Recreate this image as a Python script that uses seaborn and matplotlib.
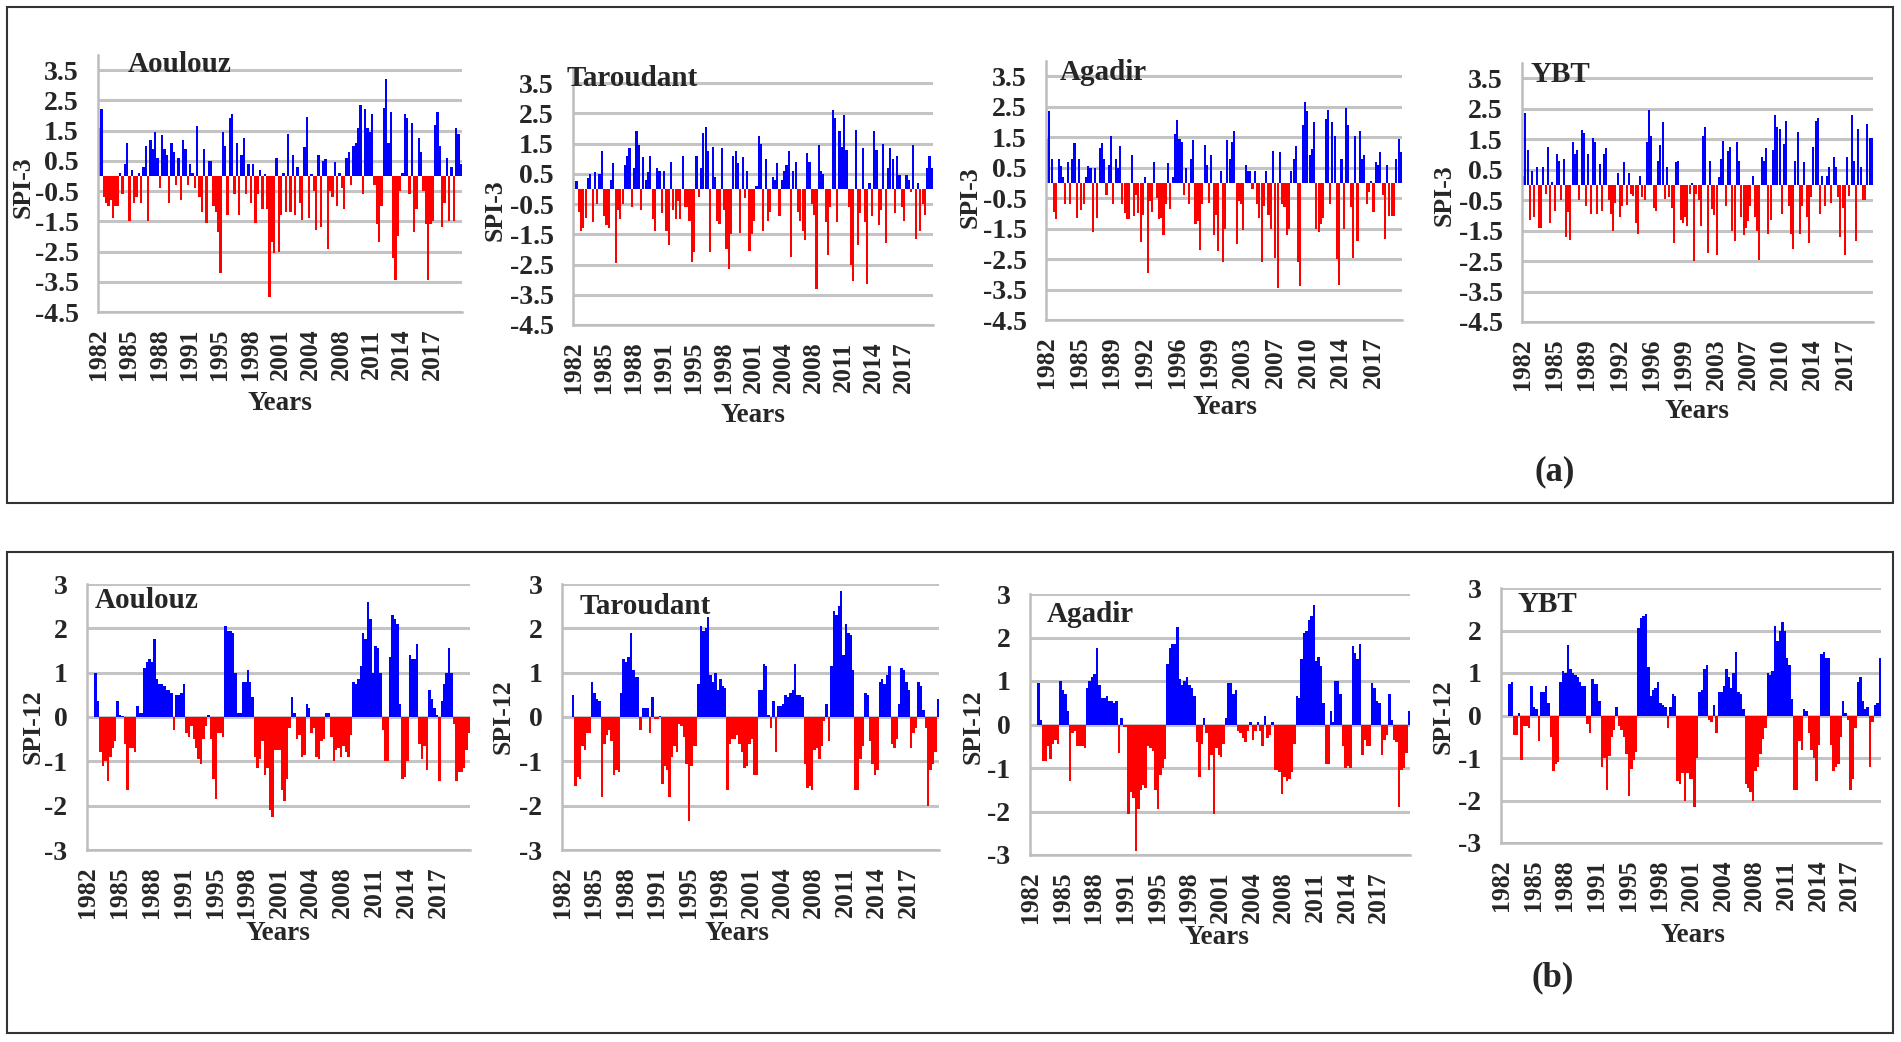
import matplotlib
matplotlib.use("Agg")
import matplotlib.pyplot as plt
from matplotlib.patches import Rectangle
import numpy as np
import pandas as pd
import seaborn as sns

# SPI values, one value per quarter, Jan 1982 - Dec 2020 (4 per year)
aoulouz_spi3 = [
    1.6, 2.2, -0.7, -0.9, -1.0, -0.8, -1.4, -1.0, -1.0, 0.1, -0.6, 0.4,
    1.1, -1.5, 0.2, -0.9, -0.7, 0.1, -0.9, 0.3, 1.0, -1.5, 1.2, 0.9,
    1.45, 0.6, -0.4, 1.35, 0.9, 0.7, -0.9, 1.1, 0.8, -0.3, 0.6, -0.8,
    1.2, 0.9, -0.3, 0.4, 0.1, -0.4, 1.65, -0.7, -1.2, 0.9, -1.55, 0.5,
    0.5, -1.0, -1.2, -1.85, -3.2, 1.45, 1.0, -1.3, 1.9, 2.05, -0.6, 1.1,
    -1.3, 0.7, 1.25, -0.6, 0.4, -0.9, 0.4, -1.55, -0.6, 0.2, -1.1, 0.05,
    -1.1, -4.0, -2.2, -2.55, 0.6, -2.5, -1.3, 0.1, -1.2, 1.4, -1.2, 0.7,
    -1.3, 0.3, -0.9, -1.45, 0.97, 1.95, -1.4, 0.05, -0.5, -1.8, 0.7, -1.7,
    0.5, 0.55, -2.4, -0.5, -0.7, 0.45, -1.0, 0.1, -0.4, -1.1, 0.6, 0.8,
    -0.3, 1.0, 1.1, 1.6, 2.35, -0.6, 2.2, 1.6, 1.45, 2.05, -0.3, -1.6,
    -2.2, -1.0, 2.25, 3.2, 1.1, 2.1, -2.7, -3.45, -2.0, -0.5, 0.1, 2.05,
    1.9, -0.6, 1.75, -1.85, -1.1, 1.25, 0.8, -0.5, -1.6, -3.45, -1.6, -1.5,
    1.7, 2.1, 1.0, -1.7, -0.9, 0.6, -1.5, 0.3, -1.5, 1.6, 1.4, 0.4,
]
taroudant_spi3 = [
    0.0, 0.25, -0.75, -1.4, -1.3, -0.95, 0.35, 0.5, -1.1, 0.55, -0.5, 0.5,
    1.25, -0.9, -1.2, -1.3, 0.3, 0.85, -2.45, -0.7, -1.0, -0.5, 0.8, 1.1,
    1.35, -0.6, 0.7, 1.9, 1.45, -0.7, 1.05, 0.3, 0.55, 1.1, -1.0, -1.4,
    0.7, 0.6, -0.8, 0.6, -1.4, -1.85, 0.9, -0.7, -1.0, -0.4, -1.0, 1.1,
    -0.6, -0.6, -1.05, -2.4, -2.1, 1.1, -0.25, 0.7, 1.85, 2.05, 1.25, -2.1,
    1.4, 0.4, -1.05, -1.15, 1.35, -0.7, -2.0, -2.65, -1.5, 1.1, 1.25, 0.85,
    -1.45, 1.05, -0.3, 0.6, -2.05, -1.5, -1.05, 0.1, 1.75, 1.5, -1.4, 1.0,
    -1.05, -0.75, 0.4, 0.3, 0.85, -0.9, 0.3, 0.6, 0.8, 1.25, -2.25, 0.6,
    0.9, -0.75, -1.05, -1.4, -1.7, 1.2, 0.9, -0.5, -0.85, -3.3, 1.45, 0.6,
    0.5, -1.1, -2.2, -0.6, 2.6, 2.35, -1.1, 1.9, 1.4, 2.45, 1.3, -0.6,
    -2.5, -3.05, 1.95, -1.85, -0.8, 1.35, -1.1, -3.15, 0.2, -0.9, 1.9, 1.3,
    -1.2, -0.7, 1.5, -1.8, 0.7, 1.35, 1.0, -0.8, 1.1, 0.45, -0.6, -1.05,
    0.45, 0.3, -0.1, 1.45, -1.65, 0.2, -1.4, -0.5, -0.85, 0.7, 1.1, 0.7,
]
agadir_spi3 = [
    1.45, 2.35, 0.8, -0.95, -1.2, 0.8, 0.55, 0.2, -0.7, 0.7, -0.7, 0.8,
    1.3, -1.15, 0.8, -0.9, -0.7, 0.2, 0.55, 0.5, -1.6, 0.5, -1.15, 1.15,
    1.3, 0.8, -0.4, 0.6, 1.55, -0.7, 0.8, 0.5, 1.2, -0.7, -1.0, -1.2,
    -1.2, 0.9, -1.1, -0.4, -1.0, -1.95, -1.05, 0.2, -2.95, -0.6, -0.95, 0.7,
    -0.5, -1.2, -1.15, -1.7, -0.7, 0.65, -0.85, 0.2, 1.6, 2.05, 1.45, 1.35,
    -0.4, 0.5, -0.7, 0.8, 1.4, -1.35, -1.25, -2.2, -0.7, 1.25, 0.6, -0.65,
    0.9, -1.7, -1.05, -2.25, 0.4, -2.6, -1.5, 1.4, 0.8, 1.35, 1.7, -2.0,
    -0.6, -0.7, -1.55, 0.6, 0.4, 0.4, -0.2, 0.4, -0.7, -1.15, -2.6, -0.75,
    0.4, -1.05, -1.5, 1.05, -2.45, -3.45, 1.0, -0.7, -0.8, -1.7, -1.5, 0.4,
    0.8, 1.2, -2.6, -3.4, 1.9, 2.65, 2.35, 0.9, 1.1, 2.0, -1.5, -1.6,
    -1.35, -1.15, 2.1, 2.4, -0.7, 2.0, 1.55, -2.5, -3.35, 0.8, -1.5, 2.45,
    1.9, -0.8, -2.45, 1.55, -1.9, 1.7, 0.8, 0.9, -0.7, -0.3, 0.05, -0.95,
    0.7, 0.6, 1.0, -0.4, -1.85, 0.6, -1.1, -1.1, -1.1, 0.8, 1.45, 1.0,
]
ybt_spi3 = [
    0.3, 2.35, 1.15, -1.15, 0.45, -1.05, 0.6, -1.4, -1.4, 0.6, -0.3, 1.25,
    -1.25, 0.1, -0.85, 1.0, 0.8, -0.5, 0.85, -1.7, -0.9, -1.8, 1.4, 1.0,
    1.15, -0.5, 1.8, 1.7, -0.7, 1.0, -0.95, 1.55, 1.4, -0.95, 0.7, -0.85,
    1.0, 1.2, -0.5, -0.95, -1.5, -0.6, 0.4, -1.05, -0.7, 0.75, -0.65, 0.4,
    -0.3, -0.35, -1.25, -1.6, 0.3, -0.4, -0.5, 1.4, 2.45, 1.6, -0.75, -0.85,
    0.8, 1.3, 2.05, -0.45, 0.6, -0.4, -0.75, -1.9, 0.75, 0.8, -1.15, -1.25,
    -1.05, -1.35, -0.3, 0.05, -2.5, -0.3, -0.5, -1.35, 1.6, 1.9, -2.25, 0.8,
    -0.8, -1.0, -2.3, 0.25, 0.85, 1.45, -0.7, 1.1, 1.25, -1.5, -1.85, 1.4,
    0.8, -1.05, -1.65, -1.4, -1.2, -0.7, 0.3, -1.05, -1.5, -2.45, 0.9, 0.8,
    1.2, -1.6, -1.15, 1.15, 2.3, 1.9, 1.85, -0.95, 1.35, 2.1, -0.7, -1.6,
    -2.1, 0.8, 1.75, -1.6, -0.7, 0.75, -1.05, -1.9, -0.4, 1.25, 2.1, 2.2,
    -0.95, 0.3, -0.7, 0.3, 0.6, -0.6, 0.9, 0.6, -0.4, -1.7, -0.75, -2.3,
    0.9, -0.35, 2.3, 0.8, -1.85, 1.85, 0.6, -0.5, -0.5, 2.0, 1.55, 1.55,
]

aoulouz_spi12 = [
    0, 0, 0, 1.0, 0.35, -0.8, -1.1, -1.0, -1.45, -0.9, -0.7, -0.55,
    0.35, 0.05, 0.03, -0.6, -1.65, -0.7, -0.7, -0.8, 0.25, 0.1, 0.1, 1.1,
    1.25, 1.3, 1.25, 1.75, 0.85, 0.75, 0.75, 0.7, 0.6, 0.6, 0.55, -0.3,
    0.5, 0.5, 0.55, 0.75, -0.35, -0.45, -0.2, -0.5, -0.7, -0.95, -1.05, -0.5,
    -0.2, 0.05, -0.5, -1.4, -1.85, -0.35, -0.35, -0.45, 2.05, 1.95, 1.95, 1.9,
    1.0, 0.1, 0.1, 0.8, 0.8, 1.05, 0.8, 0.45, -0.9, -1.15, -0.95, -0.55,
    -1.3, -1.15, -2.1, -2.25, -0.75, -0.75, -0.75, -1.65, -1.9, -1.4, -0.25, 0.45,
    0.1, -0.5, -0.4, -0.9, -0.85, 0.3, 0.2, -0.35, -0.25, -0.9, -0.95, -0.55,
    -0.5, 0.08, 0.08, -0.45, -1.0, -0.75, -0.7, -0.9, -0.65, -0.8, -0.9, -0.4,
    0.8, 0.75, 0.85, 1.15, 1.9, 1.75, 2.6, 2.2, 1.0, 1.6, 1.55, 1.0,
    -0.3, -1.0, -1.0, 1.35, 2.3, 2.2, 2.1, 0.3, -1.4, -1.35, -1.0, 1.4,
    1.3, 1.3, 1.65, -0.6, -0.95, -0.65, -1.2, 0.6, 0.4, 0.2, 0.05, -1.45,
    0.35, 0.75, 1.0, 1.55, 1.0, -0.15, -1.45, -1.25, -1.25, -1.15, -0.75, -0.35,
]
taroudant_spi12 = [
    0, 0, 0, 0, 0.5, -1.55, -1.35, -1.4, -0.65, -0.75, -0.35, -0.35,
    0.8, 0.55, 0.4, 0.35, -1.8, -0.6, -0.4, -0.3, -0.55, -1.3, -1.2, -1.25,
    0.55, 1.3, 1.25, 1.35, 1.9, 1.05, 0.9, 0.9, -0.3, 0.2, 0.2, 0.2,
    -0.35, 0.45, -0.05, -0.05, 0.02, -1.5, -1.1, -1.2, -1.8, -0.9, -0.65, -0.8,
    -0.15, -0.2, -0.45, -1.05, -2.35, -1.1, -0.65, -0.65, 0.75, 2.05, 1.95, 2.0,
    2.25, 0.95, 0.8, 1.0, 0.6, 0.85, 0.7, 0.65, -1.65, -0.6, -0.5, -0.5,
    -0.4, -0.6, -0.8, -1.15, -1.1, -0.6, -0.5, -1.3, -1.3, 0.6, 0.6, 1.2,
    1.15, 0.05, -0.25, 0.35, -0.8, 0.25, 0.25, 0.3, 0.5, 0.45, 0.55, 0.6,
    1.2, 0.5, 0.5, 0.45, -1.05, -1.6, -1.55, -1.65, -0.75, -0.7, -0.95, -0.65,
    -0.1, 0.3, -0.55, 1.15, 2.4, 2.3, 2.5, 2.85, 1.4, 2.1, 1.9, 1.85,
    1.05, -1.65, -1.65, -0.95, -0.65, 0.55, 0.5, -0.55, -1.05, -1.3, -1.2, 0.8,
    0.85, 0.75, 0.95, 1.15, -0.6, -0.7, -0.5, 0.3, 1.1, 1.05, 0.8, 0.6,
    -0.7, -0.35, -0.25, 0.8, 0.7, 0.15, -0.25, -2.0, -1.2, -1.05, -0.8, 0.4,
]
agadir_spi12 = [
    0, 0, 0, 0.95, 0.1, -0.85, -0.85, -0.5, -0.8, -0.45, -0.35, -0.45,
    1.0, 0.8, 0.7, 0.3, -1.3, -0.2, -0.15, -0.5, -0.5, -0.5, -0.55, 0.85,
    1.0, 1.1, 1.15, 1.75, 0.9, 0.6, 0.6, 0.65, 0.55, 0.55, 0.5, 0.55,
    -0.65, 0.15, -0.05, -0.05, -2.05, -1.55, -1.7, -2.9, -1.95, -1.5, -1.4, -1.45,
    -0.5, -0.55, -0.6, -1.5, -1.95, -1.15, -1.0, -0.8, 1.4, 1.75, 1.85, 1.85,
    2.25, 1.05, 0.9, 1.0, 1.1, 0.9, 0.85, 0.65, -0.4, -1.2, -0.45, 0.15,
    -0.2, -1.05, -0.7, -2.05, -0.55, -0.7, -0.75, -0.45, 0.15, 0.95, 0.95, 0.7,
    0.8, -0.15, -0.2, -0.3, -0.4, -0.15, 0.05, -0.35, -0.15, 0.05, -0.15, -0.5,
    0.2, -0.3, -0.25, 0.05, -1.05, -1.05, -1.1, -1.6, -1.2, -1.3, -1.25, -1.1,
    -0.45, 0.65, 0.6, 1.5, 2.1, 2.15, 2.4, 2.5, 2.75, 1.45, 1.55, 1.35,
    0.5, -0.9, -0.9, 0.3, 0.05, 1.0, 1.0, 0.7, -0.5, -1.0, -0.95, -1.0,
    1.8, 1.65, 1.5, 1.85, -0.7, -0.35, -0.5, -0.5, 0.95, 0.85, 0.55, 0.5,
    -0.7, -0.35, -0.25, 0.7, 0.1, -0.35, -0.4, -1.9, -1.05, -1.0, -0.65, 0.3,
]
ybt_spi12 = [
    0, 0, 0, 0.75, 0.8, -0.45, -0.45, 0.05, -1.05, -0.25, -0.25, -0.3,
    0.7, 0.2, 0.15, -0.6, 0.55, 0.55, 0.7, 0.3, -0.5, -1.3, -1.15, -1.1,
    0.8, 1.05, 1.0, 1.65, 1.1, 1.0, 0.95, 0.9, 0.8, 0.7, 0.7, -0.2,
    -0.4, 0.85, 0.75, 0.75, 0.35, -1.2, -1.0, -1.75, -0.95, -0.5, -0.35, 0.2,
    -0.25, -0.35, -0.5, -0.9, -1.9, -1.25, -1.05, -0.85, 2.05, 2.3, 2.35, 2.4,
    1.15, 0.45, 0.6, 0.65, 0.8, 0.3, 0.25, 0.2, -0.3, 0.2, 0.5, 0.45,
    -1.55, -1.6, -1.35, -2.0, -1.35, -1.5, -1.5, -2.15, -1.0, 0.55, 0.6, 1.1,
    1.2, -0.1, -0.15, 0.25, -0.4, 0.55, 0.55, 0.7, 1.1, 0.9, 0.65, 1.0,
    1.5, 0.55, 0.5, 0.15, -1.6, -1.7, -1.8, -2.0, -1.3, -1.2, -0.9, -0.55,
    -0.3, 1.0, 0.95, 1.05, 2.1, 1.75, 2.0, 2.2, 2.0, 1.35, 1.2, 0.4,
    -1.75, -1.75, -0.6, -0.8, 0.15, 0.1, -0.4, -0.8, -1.0, -1.55, -0.7, 1.45,
    1.5, 1.35, 1.35, -0.7, -1.3, -1.2, -1.15, -0.5, 0.35, 0.05, -0.1, -1.75,
    -1.5, -0.3, 0.8, 0.9, 0.35, 0.15, 0.2, -1.2, -0.15, 0.25, 0.3, 1.35,
]

stations = ["Aoulouz", "Taroudant", "Agadir", "YBT"]
years_39 = ["1982", "1985", "1988", "1991", "1995", "1998", "2001", "2004",
            "2008", "2011", "2014", "2017"]
years_43 = ["1982", "1985", "1989", "1992", "1996", "1999", "2003", "2007",
            "2010", "2014", "2017"]
spi3_levels = [3.5, 2.5, 1.5, 0.5, -0.5, -1.5, -2.5, -3.5, -4.5]
spi12_levels = [3, 2, 1, 0, -1, -2, -3]

W, H = 1901, 1042
FONT = ["Liberation Serif", "DejaVu Serif"]


def fx(x):
    return x / W


def fy(y):
    return 1 - y / H


def fig_box(left, top, right, bottom):
    return [left / W, 1 - bottom / H, (right - left) / W, (bottom - top) / H]


sns.set_theme(style="white")
plt.rcParams["font.family"] = FONT
plt.rcParams["font.weight"] = "bold"

fig = plt.figure(figsize=(W / 100, H / 100), dpi=100)


def draw_panel(values, box, levels, ylim, year_labels, step, bar_width):
    ax = fig.add_axes(fig_box(*box))
    df = pd.DataFrame({"month": np.arange(len(values)) * 3 + 1.5, "spi": values})
    df["sign"] = np.where(df["spi"] >= 0, "wet", "dry")
    sns.barplot(data=df, x="month", y="spi", hue="sign",
                palette={"wet": "#0000ff", "dry": "#ff0000"},
                native_scale=True, width=bar_width, dodge=False, errorbar=None,
                legend=False, linewidth=0, saturation=1, ax=ax)
    ax.set_xlim(0, len(values) * 3)
    ax.set_ylim(*ylim)
    ax.set_yticks(levels)
    ax.set_yticklabels([f"{v:g}" for v in levels], fontsize=20, fontweight="bold")
    ax.set_xticks([i * step + 0.5 for i in range(len(year_labels))])
    ax.set_xticklabels(year_labels, rotation=90, fontsize=18.5, fontweight="bold")
    ax.set_xlabel("")
    ax.set_ylabel("")
    ax.tick_params(length=0)
    ax.tick_params(axis="x", pad=12)
    ax.tick_params(axis="y", pad=14)
    ax.grid(False)
    ax.yaxis.grid(True, color="#c4c4c4", linewidth=2.2)
    ax.set_axisbelow(True)
    for side in ["top", "right"]:
        ax.spines[side].set_visible(False)
    for side in ["left", "bottom"]:
        ax.spines[side].set_color("#bdbdbd")
        ax.spines[side].set_linewidth(1.8)
    return ax


def label_panel(name, title_xy, ylabel, ylabel_xy, years_xy):
    fig.text(fx(title_xy[0]), fy(title_xy[1]), name, fontsize=21, fontweight="bold",
             ha="left", va="center")
    fig.text(fx(ylabel_xy[0]), fy(ylabel_xy[1]), ylabel, fontsize=18.5, fontweight="bold",
             rotation=90, ha="center", va="center")
    fig.text(fx(years_xy[0]), fy(years_xy[1]), "Years", fontsize=19.5, fontweight="bold",
             ha="center", va="center")


# (a) SPI-3
spi3_series = [aoulouz_spi3, taroudant_spi3, agadir_spi3, ybt_spi3]
spi3_boxes = [(98, 55, 462, 312), (573, 68, 933, 325), (1046, 61, 1402, 320), (1522, 63, 1873, 322)]
spi3_titles = [(128, 65), (567, 78), (1060, 72), (1530, 75)]
spi3_ylabels = [(23, 187), (495, 210), (970, 197), (1444, 195)]
spi3_years = [(280, 403), (753, 415), (1225, 408), (1697, 412)]
spi3_ticks = [(years_39, 39), (years_39, 39), (years_43, 43), (years_43, 43)]

for i, name in enumerate(stations):
    labels, step = spi3_ticks[i]
    draw_panel(spi3_series[i], spi3_boxes[i], spi3_levels, (-4.5, 4.0), labels, step, 0.92)
    label_panel(name, spi3_titles[i], "SPI-3", spi3_ylabels[i], spi3_years[i])

# (b) SPI-12
spi12_series = [aoulouz_spi12, taroudant_spi12, agadir_spi12, ybt_spi12]
spi12_boxes = [(87, 584, 470, 850), (562, 584, 939, 850), (1030, 594, 1410, 855), (1501, 588, 1881, 843)]
spi12_titles = [(95, 600), (580, 607), (1047, 615), (1517, 605)]
spi12_ylabels = [(33, 727), (503, 717), (973, 727), (1443, 717)]
spi12_years = [(278, 933), (737, 933), (1217, 938), (1693, 935)]

for i, name in enumerate(stations):
    draw_panel(spi12_series[i], spi12_boxes[i], spi12_levels, (-3, 3), years_39, 39, 1.0)
    label_panel(name, spi12_titles[i], "SPI-12", spi12_ylabels[i], spi12_years[i])

# outer frames and panel letters
for top, bottom in [(7, 503), (552, 1033)]:
    fig.add_artist(Rectangle((fx(7), fy(bottom)), (1893 - 7) / W, (bottom - top) / H,
                             transform=fig.transFigure, fill=False,
                             edgecolor="#333333", linewidth=1.5))
fig.text(fx(1555), fy(472), "(a)", fontsize=25, fontweight="bold", ha="center", va="center")
fig.text(fx(1553), fy(978), "(b)", fontsize=25, fontweight="bold", ha="center", va="center")

fig.savefig("out.png", dpi=100)
